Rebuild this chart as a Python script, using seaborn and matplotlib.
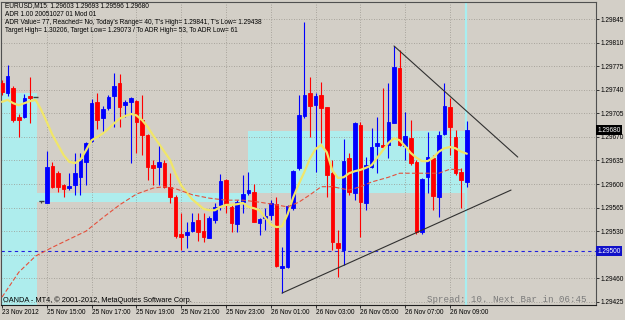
import matplotlib
matplotlib.use("Agg")
import matplotlib.pyplot as plt
import seaborn as sns
import numpy as np
import pandas as pd

# ---------------- data ----------------
bar_open = [1.29750, 1.29735, 1.29743, 1.29699, 1.29699, 1.29730, 1.29729, 1.29575, 1.29572, 1.29627,
            1.29616, 1.29599, 1.29594, 1.29599, 1.29610, 1.29633, 1.29664, 1.29722, 1.29698, 1.29713,
            1.29731, 1.29750, 1.29717, 1.29722, 1.29723, 1.29695, 1.29673, 1.29628, 1.29625, 1.29631,
            1.29596, 1.29581, 1.29526, 1.29524, 1.29530, 1.29547, 1.29530, 1.29520, 1.29547, 1.29569,
            1.29606, 1.29566, 1.29541, 1.29573, 1.29587, 1.29588, 1.29542, 1.29550, 1.29554, 1.29570,
            1.29475, 1.29477, 1.29564, 1.29624, 1.29701, 1.29735, 1.29717, 1.29732, 1.29714, 1.29616,
            1.29512, 1.29502, 1.29639, 1.29587, 1.29688, 1.29572, 1.29625, 1.29656, 1.29658, 1.29658,
            1.29691, 1.29772, 1.29656, 1.29668, 1.29633, 1.29528, 1.29610, 1.29639, 1.29581, 1.29674,
            1.29714, 1.29670, 1.29618, 1.29603]
bar_high = [1.29754, 1.29777, 1.29746, 1.29704, 1.29734, 1.29759, 1.29729, 1.29575, 1.29649, 1.29633,
            1.29619, 1.29600, 1.29616, 1.29646, 1.29646, 1.29662, 1.29726, 1.29735, 1.29716, 1.29732,
            1.29765, 1.29763, 1.29725, 1.29729, 1.29725, 1.29732, 1.29674, 1.29636, 1.29659, 1.29636,
            1.29616, 1.29584, 1.29557, 1.29544, 1.29557, 1.29557, 1.29557, 1.29552, 1.29572, 1.29615,
            1.29608, 1.29569, 1.29576, 1.29613, 1.29618, 1.29600, 1.29550, 1.29564, 1.29576, 1.29581,
            1.29506, 1.29569, 1.29621, 1.29732, 1.29841, 1.29759, 1.29735, 1.29751, 1.29715, 1.29636,
            1.29532, 1.29667, 1.29646, 1.29692, 1.29692, 1.29640, 1.29683, 1.29700, 1.29743, 1.29750,
            1.29805, 1.29799, 1.29707, 1.29695, 1.29636, 1.29609, 1.29677, 1.29643, 1.29679, 1.29750,
            1.29728, 1.29680, 1.29624, 1.29693]
bar_low = [1.29732, 1.29731, 1.29692, 1.29670, 1.29698, 1.29691, 1.29729, 1.29572, 1.29572, 1.29594,
           1.29588, 1.29581, 1.29591, 1.29584, 1.29584, 1.29599, 1.29662, 1.29682, 1.29677, 1.29710,
           1.29685, 1.29685, 1.29699, 1.29631, 1.29646, 1.29643, 1.29606, 1.29599, 1.29599, 1.29594,
           1.29572, 1.29520, 1.29502, 1.29505, 1.29529, 1.29515, 1.29514, 1.29520, 1.29542, 1.29561,
           1.29557, 1.29529, 1.29529, 1.29557, 1.29584, 1.29543, 1.29524, 1.29532, 1.29547, 1.29476,
           1.29438, 1.29475, 1.29561, 1.29621, 1.29698, 1.29670, 1.29618, 1.29661, 1.29581, 1.29502,
           1.29462, 1.29480, 1.29584, 1.29576, 1.29521, 1.29561, 1.29624, 1.29616, 1.29653, 1.29639,
           1.29690, 1.29657, 1.29636, 1.29628, 1.29526, 1.29526, 1.29587, 1.29561, 1.29551, 1.29673,
           1.29643, 1.29613, 1.29564, 1.29596]
bar_close = [1.29737, 1.29760, 1.29695, 1.29695, 1.29728, 1.29728, 1.29729, 1.29575, 1.29625, 1.29596,
             1.29596, 1.29593, 1.29597, 1.29616, 1.29637, 1.29661, 1.29720, 1.29695, 1.29711, 1.29729,
             1.29746, 1.29714, 1.29722, 1.29728, 1.29692, 1.29673, 1.29625, 1.29624, 1.29633, 1.29596,
             1.29581, 1.29523, 1.29521, 1.29529, 1.29544, 1.29529, 1.29521, 1.29550, 1.29566, 1.29604,
             1.29569, 1.29542, 1.29573, 1.29585, 1.29591, 1.29544, 1.29548, 1.29552, 1.29572, 1.29478,
             1.29478, 1.29567, 1.29620, 1.29702, 1.29732, 1.29716, 1.29731, 1.29713, 1.29613, 1.29514,
             1.29505, 1.29634, 1.29588, 1.29691, 1.29573, 1.29628, 1.29655, 1.29661, 1.29655, 1.29692,
             1.29774, 1.29658, 1.29671, 1.29631, 1.29528, 1.29607, 1.29640, 1.29582, 1.29673, 1.29716,
             1.29685, 1.29616, 1.29606, 1.29680]

ma_fast = [1.29722, 1.29725, 1.29720, 1.29717, 1.29720, 1.29723, 1.29725, 1.29710, 1.29692, 1.29673,
           1.29658, 1.29643, 1.29633, 1.29631, 1.29636, 1.29650, 1.29665, 1.29670, 1.29675, 1.29682,
           1.29690, 1.29697, 1.29701, 1.29704, 1.29702, 1.29695, 1.29685, 1.29672, 1.29660, 1.29648,
           1.29636, 1.29615, 1.29598, 1.29587, 1.29577, 1.29570, 1.29563, 1.29561, 1.29561, 1.29566,
           1.29569, 1.29569, 1.29570, 1.29572, 1.29566, 1.29564, 1.29561, 1.29550, 1.29540, 1.29536,
           1.29537, 1.29555, 1.29580, 1.29600, 1.29618, 1.29638, 1.29652, 1.29658, 1.29647, 1.29620,
           1.29609, 1.29610, 1.29616, 1.29619, 1.29621, 1.29624, 1.29628, 1.29639, 1.29650, 1.29661,
           1.29668, 1.29665, 1.29656, 1.29646, 1.29639, 1.29634, 1.29634, 1.29639, 1.29648, 1.29653,
           1.29655, 1.29653, 1.29648, 1.29645]

ma_slow_bar = [0, 3, 6, 9, 12, 15, 18, 21, 24, 27, 29, 31, 34, 37, 40, 43, 46, 49, 51, 53, 55, 57,
               59, 62, 64, 66, 69, 71, 75, 78, 80, 82]
ma_slow = [1.29432, 1.29469, 1.29493, 1.29506, 1.29518, 1.29530, 1.29550, 1.29569, 1.29585, 1.29594,
           1.29596, 1.29593, 1.29584, 1.29579, 1.29576, 1.29576, 1.29573, 1.29569, 1.29566, 1.29573,
           1.29584, 1.29596, 1.29596, 1.29591, 1.29596, 1.29603, 1.29610, 1.29616, 1.29616, 1.29616,
           1.29622, 1.29621]

box_start = [-0.5, 6.3, 43.9]
box_end = [6.3, 43.9, 83.0]
box_top = [1.29735, 1.29586, 1.29679]
box_bottom = [1.29400, 1.29574, 1.29587]

trend_upper_bar = [70, 92.1]
trend_upper_price = [1.29805, 1.29640]
trend_lower_bar = [50, 90.9]
trend_lower_price = [1.29438, 1.29591]

level_price = 1.29500
bid_price = 1.29680

xtick_bars = [0, 8, 16, 24, 32, 40, 48, 56, 64, 72, 80]
xtick_labels = ["23 Nov 2012", "25 Nov 15:00", "25 Nov 17:00", "25 Nov 19:00", "25 Nov 21:00",
                "25 Nov 23:00", "26 Nov 01:00", "26 Nov 03:00", "26 Nov 05:00", "26 Nov 07:00",
                "26 Nov 09:00"]
ytick_values = [1.29425, 1.29460, 1.29495, 1.29530, 1.29565, 1.29600, 1.29635, 1.29670,
                1.29705, 1.29740, 1.29775, 1.29810, 1.29845]
# 1.29495 is hidden under the 1.29500 price box in the reference
ytick_labels = ["1.29425", "1.29460", "", "1.29530", "1.29565", "1.29600", "1.29635",
                "1.29670", "1.29705", "1.29740", "1.29775", "1.29810", "1.29845"]

header_lines = [
    "EURUSD,M15  1.29603 1.29693 1.29596 1.29680",
    "ADR 1.00 20051027 01 Mod 01",
    "ADR Value= 77, Reached= No, Today's Range= 40, T's High= 1.29841, T's Low= 1.29438",
    "Target High= 1.30206, Target Low= 1.29073 / To ADR High= 53, To ADR Low= 61",
]
copyright_text = "OANDA - MT4, \u00a9 2001-2012, MetaQuotes Software Corp."
spread_text = "Spread: 10. Next Bar in 06:45"

# ---------------- style ----------------
BG = "#D3CFC7"
CYAN = "#AEEDED"
BULL = "#0000FF"
BEAR = "#FF0000"
DOJI = "#404040"

sns.set_style("white")
plt.rcParams["font.family"] = ["Liberation Sans", "DejaVu Sans"]

W, H = 625, 320
fig = plt.figure(figsize=(W / 100, H / 100), dpi=100, facecolor=BG)
ax = fig.add_axes([1.5 / W, 15 / H, (596 - 1.5) / W, 303 / H])
ax.set_facecolor(BG)

df = pd.DataFrame({"open": bar_open, "high": bar_high, "low": bar_low, "close": bar_close})
df["bar"] = np.arange(len(df))

# day boxes
for s, e, t, b in zip(box_start, box_end, box_top, box_bottom):
    ax.fill_between([s, e], [b, b], [t, t], color=CYAN, lw=0, zorder=0.5)

# grid
for yv in ytick_values:
    ax.axhline(yv, color="#9A968E", lw=0.6, ls=(0, (1, 2)), zorder=0.8)
for xv in xtick_bars[1:]:
    ax.axvline(xv, color="#9A968E", lw=0.6, ls=(0, (1, 2)), zorder=0.8)

# current bar marker
ax.axvline(82.85, color="#A8EEF0", lw=1.6, zorder=0.9)

# level line
ax.axhline(level_price, color="#2020E0", lw=0.8, ls=(0, (3, 3)), zorder=1)

# candles
colors = [BULL if c > o else (BEAR if c < o else DOJI) for o, c in zip(df["open"], df["close"])]
ax.vlines(df["bar"], df["low"], df["high"], colors=colors, lw=0.8, zorder=3)
body_lo = np.minimum(df["open"], df["close"])
body_h = np.abs(df["close"] - df["open"])
ax.bar(df["bar"], body_h, bottom=body_lo, width=0.62, color=colors, edgecolor=colors,
       lw=0.6, zorder=3.1)
doji = df[df["open"] == df["close"]]
ax.hlines(doji["close"], doji["bar"] - 0.45, doji["bar"] + 0.45, colors=DOJI, lw=1.0, zorder=3.2)

# moving averages (seaborn)
sns.lineplot(x=df["bar"], y=ma_fast, ax=ax, color="#F0E66A", lw=1.6, zorder=4)
sns.lineplot(x=ma_slow_bar, y=ma_slow, ax=ax, color="#E4503C", lw=0.8, ls=(0, (4, 2)), zorder=4)

# trendlines
ax.plot(trend_upper_bar, trend_upper_price, color="#303030", lw=0.8, zorder=5)
ax.plot(trend_lower_bar, trend_lower_price, color="#303030", lw=0.8, zorder=5)

# axes
ax.set_xlim(-0.09, 106.07)
ax.set_ylim(1.294203, 1.298703)
ax.set_xlabel("")
ax.set_ylabel("")
ax.yaxis.tick_right()
ax.set_yticks(ytick_values)
ax.set_yticklabels(ytick_labels)
ax.set_xticks(xtick_bars)
ax.set_xticklabels(xtick_labels)
for lbl in ax.get_xticklabels():
    lbl.set_ha("left")
ax.tick_params(axis="y", length=2.2, width=0.7, pad=1.2, labelsize=4.7, color="#303030",
               labelcolor="black", right=True, left=False)
ax.tick_params(axis="x", length=2.2, width=0.7, pad=0.8, labelsize=4.7, color="#303030",
               labelcolor="black", bottom=True)
for sp in ax.spines.values():
    sp.set_visible(True)
    sp.set_color("#505050")
    sp.set_linewidth(0.8)
ax.spines["bottom"].set_color("#202020")

# price labels on the axis
trans = ax.get_yaxis_transform()
ax.text(1.002, bid_price, "1.29680", transform=trans, fontsize=4.7, color="white", va="center",
        ha="left", zorder=10, clip_on=False,
        bbox=dict(boxstyle="square,pad=0.25", fc="black", ec="none"))
ax.text(1.002, level_price, "1.29500", transform=trans, fontsize=4.7, color="white", va="center",
        ha="left", zorder=10, clip_on=False,
        bbox=dict(boxstyle="square,pad=0.25", fc="#1010C8", ec="none"))

# texts
for line, yy in zip(header_lines, [6, 14, 22.5, 31]):
    fig.text(5 / W, 1 - yy / H, line, fontsize=4.7, color="black", va="center", ha="left")
fig.text(3 / W, 1 - 300.5 / H, copyright_text, fontsize=5.3, color="black", va="center", ha="left")
fig.text(427 / W, 1 - 299.5 / H, spread_text, fontsize=6.6, color="#7A7A7A", va="center",
         ha="left", family=["Liberation Mono", "DejaVu Sans Mono"])

fig.savefig("out.png", dpi=100, facecolor=BG)
